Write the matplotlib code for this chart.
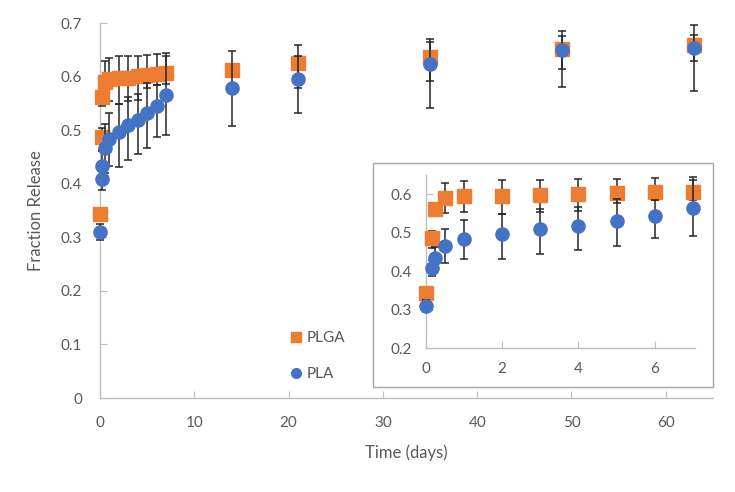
import matplotlib.pyplot as plt
from matplotlib.patches import Rectangle
from matplotlib.lines import Line2D

plt.rcParams['font.family'] = ['Lato', 'DejaVu Sans']

# sampling times (days)
days = [0, 0.167, 0.25, 0.5, 1, 2, 3, 4, 5, 6, 7, 14, 21, 35, 49, 63]

# PLGA release with lower / upper error
plga = [0.343, 0.487, 0.562, 0.590, 0.596, 0.597, 0.598, 0.601, 0.603, 0.605, 0.606,
        0.612, 0.625, 0.637, 0.652, 0.660]
plga_lo = [0.005, 0.025, 0.016, 0.039, 0.041, 0.048, 0.044, 0.044, 0.025, 0.020, 0.020,
           0.010, 0.046, 0.045, 0.038, 0.030]
plga_hi = [0.005, 0.017, 0.016, 0.040, 0.039, 0.041, 0.040, 0.038, 0.038, 0.037, 0.038,
           0.010, 0.035, 0.033, 0.034, 0.036]

# PLA release with lower / upper error
pla = [0.310, 0.409, 0.434, 0.466, 0.483, 0.496, 0.509, 0.519, 0.532, 0.545, 0.565,
       0.578, 0.595, 0.623, 0.650, 0.654]
pla_lo = [0.015, 0.020, 0.030, 0.045, 0.050, 0.065, 0.065, 0.064, 0.065, 0.058, 0.073,
          0.070, 0.062, 0.082, 0.069, 0.080]
pla_hi = [0.015, 0.020, 0.030, 0.045, 0.050, 0.053, 0.053, 0.049, 0.056, 0.040, 0.073,
          0.070, 0.044, 0.041, 0.026, 0.024]

inset_n = 11  # first week shown in the inset

orange = '#ED7D31'
blue = '#4472C4'
grey_txt = '#595959'
grey_ax = '#BFBFBF'


def draw(ax, n, ms):
    for vals, lo, hi, mk, col, z in [(plga, plga_lo, plga_hi, 's', orange, 3),
                                     (pla, pla_lo, pla_hi, 'o', blue, 4)]:
        eb = ax.errorbar(days[:n], vals[:n], yerr=[lo[:n], hi[:n]], fmt=mk, ms=ms,
                         color=col, ecolor='#262626', elinewidth=1.1, capsize=3.2,
                         capthick=1.1, zorder=z)
        for art in eb.get_children():
            art.set_clip_on(False)
    for s in ['top', 'right']:
        ax.spines[s].set_visible(False)
    for s in ['left', 'bottom']:
        ax.spines[s].set_color(grey_ax)
        ax.spines[s].set_linewidth(1.0)
    ax.tick_params(direction='in', length=5, color=grey_ax, labelcolor=grey_txt,
                   labelsize=11, pad=13)


fig = plt.figure(figsize=(7.35, 4.92), dpi=100)

ax = fig.add_axes([0.136, 0.191, 0.834, 0.762])
draw(ax, len(days), 9.5)
ax.set_xlim(0, 65)
ax.set_ylim(0, 0.7)
ax.set_xticks([0, 10, 20, 30, 40, 50, 60])
ax.set_yticks([0, 0.1, 0.2, 0.3, 0.4, 0.5, 0.6, 0.7])
ax.set_yticklabels(['0', '0.1', '0.2', '0.3', '0.4', '0.5', '0.6', '0.7'])
ax.set_xlabel('Time (days)', fontsize=12, color=grey_txt, labelpad=10)
ax.set_ylabel('Fraction Release', fontsize=12, color=grey_txt, labelpad=12)

handles = [Line2D([], [], ls='none', marker='s', ms=7, color=orange),
           Line2D([], [], ls='none', marker='o', ms=7, color=blue)]
ax.legend(handles, ['PLGA', 'PLA'], loc='upper left', bbox_to_anchor=(0.372, 0.355),
          bbox_transform=fig.transFigure, frameon=False, fontsize=11,
          labelcolor=grey_txt, labelspacing=1.45, handletextpad=0.1, handlelength=1.2)

# inset frame
fig.patches.append(Rectangle((0.5075, 0.2134), 0.4626, 0.455, transform=fig.transFigure,
                             fill=True, facecolor='white', edgecolor='#A6A6A6',
                             linewidth=1.0, zorder=5))

ins = fig.add_axes([0.579, 0.292, 0.3667, 0.352], zorder=6)
ins.patch.set_alpha(0)
draw(ins, inset_n, 9.5)
ins.set_xlim(0, 7.05)
ins.set_ylim(0.2, 0.65)
ins.set_xticks([0, 2, 4, 6])
ins.set_yticks([0.2, 0.3, 0.4, 0.5, 0.6])
ins.tick_params(pad=10)

fig.savefig('out.png', dpi=100)
